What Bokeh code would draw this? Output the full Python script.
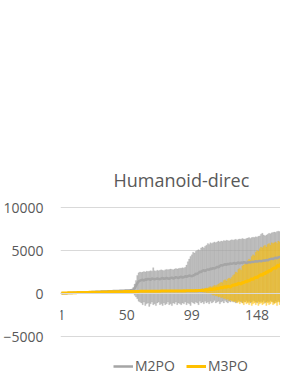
from bokeh.plotting import figure
from bokeh.models import ColumnDataSource, FixedTicker, Range1d, Legend, LegendItem
from bokeh.embed import file_html
from bokeh.resources import INLINE

title_text = "Humanoid-direc"
series_names = ["M2PO", "M3PO"]
x_ticks = [1, 50, 99, 148]
y_ticks = [-5000, 0, 5000, 10000]

m2_mean = [
    0, 20, 30, 40, 40, 50, 60, 60, 70, 80,
    80, 90, 100, 100, 110, 120, 120, 130, 140, 140,
    150, 160, 160, 170, 180, 180, 190, 200, 200, 210,
    220, 220, 230, 240, 240, 250, 260, 260, 270, 280,
    280, 290, 300, 300, 310, 320, 320, 330, 340, 340,
    350, 360, 380, 400, 450, 600, 900, 1200, 1400, 1500,
    1550, 1600, 1500, 1650, 1600, 1700, 1650, 1600, 1750, 1700,
    1650, 1700, 1750, 1700, 1650, 1750, 1800, 1700, 1750, 1800,
    1750, 1700, 1800, 1850, 1750, 1800, 1900, 1850, 1800, 1900,
    1950, 1850, 1900, 2000, 1950, 2000, 2100, 2050, 2000, 2100,
    2150, 2300, 2250, 2400, 2550, 2500, 2650, 2700, 2600, 2750,
    2800, 2750, 2900, 2850, 2950, 2900, 3000, 3100, 3050, 3200,
    3300, 3250, 3350, 3400, 3350, 3450, 3400, 3500, 3450, 3500,
    3550, 3450, 3550, 3600, 3500, 3600, 3550, 3650, 3600, 3550,
    3600, 3650, 3600, 3700, 3650, 3700, 3750, 3700, 3750, 3800,
    3750, 3800, 3850, 3800, 3900, 3850, 3950, 4000, 4050, 4000,
    4100, 4150, 4100, 4200, 4250, 4200, 4300, 4350, 4300, 4400,
]
m2_hi = [
    40, 60, 70, 80, 80, 90, 100, 100, 110, 120,
    120, 130, 140, 140, 150, 160, 160, 170, 180, 180,
    190, 200, 200, 210, 220, 220, 230, 240, 240, 250,
    260, 260, 270, 280, 280, 290, 300, 300, 310, 320,
    320, 330, 340, 340, 350, 360, 360, 370, 380, 380,
    390, 400, 450, 500, 700, 1100, 1500, 2100, 2400, 2500,
    2450, 2500, 2550, 2500, 2600, 2550, 2600, 2650, 2600, 3000,
    2650, 2600, 2700, 2650, 2700, 2750, 2700, 2650, 2750, 2800,
    2750, 2800, 2850, 2800, 2750, 2850, 2900, 2850, 2900, 2950,
    2950, 3000, 2950, 3050, 3300, 3700, 4000, 4300, 4500, 4800,
    4700, 4900, 5000, 5100, 5000, 5300, 5400, 5300, 5500, 5600,
    5800, 5700, 5900, 5800, 5900, 6000, 5900, 6000, 6100, 6000,
    6100, 6050, 6150, 6100, 6200, 6150, 6100, 6200, 6250, 6200,
    6250, 6300, 6200, 6300, 6350, 6300, 6400, 6350, 6300, 6400,
    6450, 6500, 6400, 6500, 6550, 6500, 6600, 6550, 6650, 6700,
    6900, 7000, 6800, 6700, 6800, 6900, 7000, 6950, 7050, 7100,
    7150, 7100, 7200, 7250, 7200, 7300, 7250, 7350, 7300, 7400,
]
m2_lo = [
    -40, -20, -10, 0, 0, 10, 20, 20, 30, 40,
    40, 50, 60, 60, 70, 80, 80, 90, 100, 100,
    110, 120, 120, 130, 140, 140, 150, 160, 160, 170,
    180, 180, 190, 200, 200, 210, 220, 220, 230, 240,
    240, 250, 260, 260, 270, 280, 280, 290, 300, 300,
    310, 320, 300, 200, 0, -200, -400, -600, -900, -1000,
    -1100, -1300, -1000, -1400, -1200, -1100, -1500, -1200, -1000, -1300,
    -1200, -1400, -1100, -1000, -1300, -1200, -1400, -1100, -1300, -1200,
    -1000, -1300, -1200, -1400, -1100, -1200, -1000, -1300, -1100, -1200,
    -1300, -1100, -1200, -1000, -1300, -1100, -1200, -1400, -1000, -1100,
    -1200, -1000, -1100, -1300, -900, -1100, -1000, -1200, -900, -1100,
    -1000, -1200, -900, -1100, -1000, -800, -1100, -1000, -900, -1200,
    -1000, -900, -1100, -800, -1000, -1100, -900, -1000, -800, -1000,
    -900, -1100, -1000, -800, -900, -1000, -1100, -900, -1000, -800,
    -1000, -900, -1100, -1000, -800, -900, -1000, -1100, -900, -1000,
    -900, -1000, -800, -1100, -1000, -900, -1000, -800, -900, -1000,
    -1100, -900, -1000, -800, -1000, -900, -1100, -1000, -900, -1000,
]
m3_mean = [
    50, 60, 60, 70, 70, 80, 80, 90, 90, 100,
    100, 100, 110, 110, 110, 120, 120, 120, 130, 130,
    130, 140, 140, 140, 150, 150, 150, 160, 160, 160,
    170, 170, 170, 180, 180, 180, 190, 190, 190, 200,
    200, 200, 200, 210, 210, 210, 210, 220, 220, 220,
    220, 230, 230, 230, 230, 240, 240, 240, 240, 250,
    250, 250, 250, 250, 260, 260, 260, 260, 260, 270,
    270, 270, 270, 270, 270, 280, 280, 280, 280, 280,
    280, 290, 290, 290, 290, 290, 290, 300, 300, 300,
    300, 300, 310, 300, 310, 320, 310, 320, 330, 320,
    330, 340, 330, 350, 340, 360, 380, 360, 400, 420,
    400, 450, 480, 450, 500, 550, 520, 600, 580, 650,
    700, 650, 750, 800, 700, 850, 800, 750, 900, 1000,
    950, 1100, 1000, 1200, 1150, 1100, 1300, 1250, 1400, 1350,
    1500, 1450, 1600, 1700, 1650, 1800, 1900, 1850, 2000, 2100,
    2200, 2100, 2350, 2300, 2500, 2450, 2700, 2600, 2800, 2900,
    3000, 2900, 3200, 3300, 3100, 3500, 3400, 3700, 3600, 3900,
]
m3_hi = [
    110, 120, 120, 130, 130, 140, 140, 150, 150, 160,
    160, 160, 170, 170, 170, 180, 180, 180, 190, 190,
    190, 200, 200, 200, 210, 210, 210, 220, 220, 220,
    230, 230, 230, 240, 240, 240, 250, 250, 250, 260,
    260, 260, 260, 270, 270, 270, 270, 280, 280, 280,
    280, 290, 290, 290, 290, 300, 300, 300, 300, 310,
    310, 310, 310, 310, 320, 320, 320, 320, 320, 330,
    330, 330, 330, 330, 330, 340, 340, 340, 340, 340,
    340, 350, 350, 350, 350, 350, 350, 360, 360, 360,
    360, 360, 370, 360, 370, 380, 370, 380, 390, 380,
    400, 420, 420, 450, 450, 500, 550, 500, 600, 650,
    650, 750, 800, 750, 850, 950, 900, 1000, 1100, 1200,
    1300, 1250, 1500, 1600, 1450, 1700, 1800, 1700, 1900, 2100,
    2200, 2500, 2400, 2800, 2900, 2700, 3200, 3300, 3500, 3400,
    3800, 4000, 3900, 4300, 4500, 4400, 4800, 5000, 4900, 5200,
    5400, 5300, 5500, 5600, 5400, 5700, 5800, 5600, 5900, 5800,
    5900, 6000, 5800, 6100, 6000, 6200, 6100, 6300, 6200, 6400,
]
m3_lo = [
    -10, 0, 0, 10, 10, 20, 20, 30, 30, 40,
    40, 40, 50, 50, 50, 60, 60, 60, 70, 70,
    70, 80, 80, 80, 90, 90, 90, 100, 100, 100,
    110, 110, 110, 120, 120, 120, 130, 130, 130, 140,
    140, 140, 140, 150, 150, 150, 150, 160, 160, 160,
    160, 170, 170, 170, 170, 180, 180, 180, 180, 190,
    190, 190, 190, 190, 200, 200, 200, 200, 200, 210,
    210, 210, 210, 210, 210, 220, 220, 220, 220, 220,
    220, 230, 230, 230, 230, 230, 230, 240, 240, 240,
    240, 240, 250, 240, 250, 260, 250, 260, 270, 260,
    250, 250, 240, 250, 230, 220, 200, 150, 150, 100,
    50, 0, -50, -100, -200, -150, -300, -250, -400, -350,
    -500, -450, -600, -550, -700, -650, -800, -750, -900, -850,
    -1000, -900, -1100, -1000, -1200, -900, -1100, -1300, -1000, -1200,
    -1100, -1300, -1000, -1400, -1200, -1100, -1300, -1000, -1400, -1200,
    -1100, -1300, -1200, -1000, -1400, -1100, -1300, -1200, -1000, -1300,
    -1200, -1100, -1400, -1000, -1300, -1200, -1100, -1400, -1200, -1300,
]

episodes = list(range(1, len(m2_mean) + 1))

GRAY = "#a5a5a5"
GOLD = "#ffc000"
TXT = "#595959"
FONT = "Open Sans"

src = ColumnDataSource(dict(x=episodes, m2=m2_mean, m2_hi=m2_hi, m2_lo=m2_lo,
                            m3=m3_mean, m3_hi=m3_hi, m3_lo=m3_lo))

p = figure(width=280, height=375, output_backend="svg", toolbar_location=None,
           x_range=Range1d(0.27, 165.6), y_range=Range1d(-9535, 11047),
           min_border_left=54, min_border_right=0, min_border_top=198,
           min_border_bottom=0, title=title_text)
p.outline_line_color = None
p.background_fill_color = "white"
p.border_fill_color = "white"

p.title.align = "left"
p.title.text_font = FONT
p.title.text_font_size = "18px"
p.title.text_font_style = "normal"
p.title.text_color = TXT
p.title.offset = 53
p.title.standoff = 14

# axes
p.yaxis.ticker = FixedTicker(ticks=y_ticks)
p.yaxis.axis_line_color = None
p.yaxis.major_tick_line_color = None
p.yaxis.minor_tick_line_color = None
p.yaxis.major_label_text_font = FONT
p.yaxis.major_label_text_font_size = "14px"
p.yaxis.major_label_text_color = TXT
p.yaxis.major_label_standoff = 11

p.xaxis.ticker = FixedTicker(ticks=x_ticks)
p.xaxis.fixed_location = 0
p.xaxis.axis_line_color = "#d9d9d9"
p.xaxis.major_tick_line_color = None
p.xaxis.minor_tick_line_color = None
p.xaxis.major_label_text_font = FONT
p.xaxis.major_label_text_font_size = "14px"
p.xaxis.major_label_text_color = TXT
p.xaxis.major_label_standoff = 10

p.xgrid.grid_line_color = None
p.ygrid.grid_line_color = "#d9d9d9"
p.ygrid.grid_line_width = 1

# error bars
p.vbar(x="x", bottom="m2_lo", top="m2_hi", width=1.0, source=src,
       fill_color=GRAY, fill_alpha=0.7, line_color=GRAY, line_alpha=0.35,
       line_width=0.6)
p.vbar(x="x", bottom="m3_lo", top="m3_hi", width=1.0, source=src,
       fill_color=GOLD, fill_alpha=0.55, line_color=GOLD, line_alpha=0.3,
       line_width=0.6)

r2 = p.line("x", "m2", source=src, line_color=GRAY, line_width=2.5)
r3 = p.line("x", "m3", source=src, line_color=GOLD, line_width=3)

legend = Legend(items=[LegendItem(label=series_names[0], renderers=[r2]),
                       LegendItem(label=series_names[1], renderers=[r3])],
                orientation="horizontal", location=(53, 0),
                padding=0, margin=0, spacing=11, glyph_width=20, glyph_height=18,
                label_standoff=2, label_text_font=FONT, label_text_font_size="14px",
                label_text_color=TXT, background_fill_alpha=0, border_line_color=None)
p.add_layout(legend, "center")

open("out.html", "w").write(file_html(p, INLINE))
